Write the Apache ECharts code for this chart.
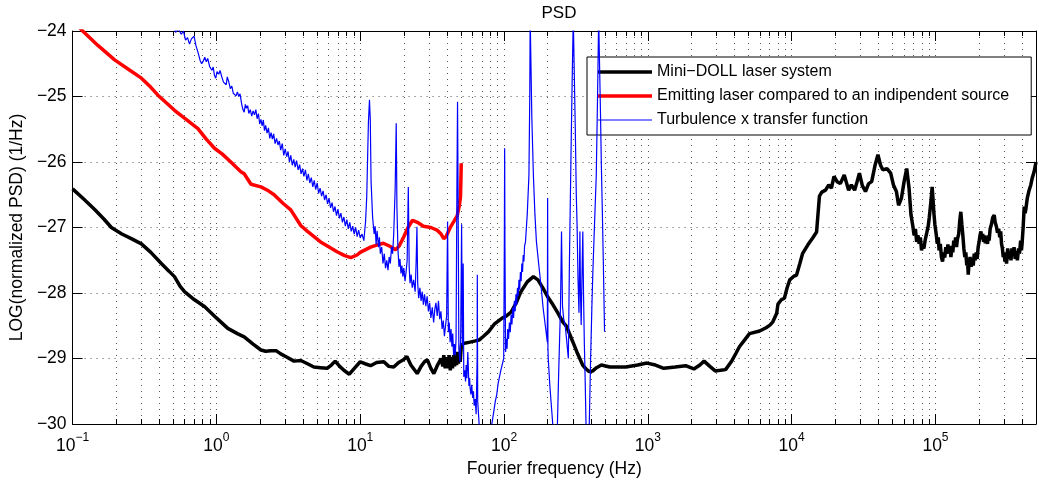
<!DOCTYPE html>
<html>
<head>
<meta charset="utf-8">
<script src="https://cdn.jsdelivr.net/npm/echarts@6/dist/echarts.min.js"></script>
<style>
html,body{margin:0;padding:0;background:#fff;}
#chart{width:1039px;height:485px;}
</style>
</head>
<body>
<div id="chart"></div>
<script>
// ---------- data (frequency in Hz, value = LOG(normalized PSD)) ----------
const TITLE = 'PSD';
const X_NAME = 'Fourier frequency (Hz)';
const Y_NAME = 'LOG(normalized PSD) (1/Hz)';
const SERIES_NAMES = ['Mini\u2212DOLL laser system', 'Emitting laser compared to an indipendent source', 'Turbulence x transfer function'];
const X_MIN = 0.1, X_MAX = 5e5;
const Y_MIN = -30, Y_MAX = -24, Y_STEP = 1;

const DOLL_F = [0.1,0.12,0.143,0.165,0.186,0.22,0.256,0.301,0.35,0.414,0.47,0.511,0.56,0.6,0.7,0.83,1.0,1.2,1.4,1.56,1.8,2.04,2.2,2.39,2.6,2.8,3.1,3.46,3.86,4.3,4.76,5.3,5.88,6.3,6.7,7.2,7.7,8.4,9.2,10,10.8,11.8,13,14.6,15.8,17.1,18.5,20,21.1,22.5,24.9,26.5,28,29.3,31,32.5,34.5,36.5,37.5,38.1,39,40,41,41.5,42.3,43,43.8,44.6,45.3,46,46.8,47.5,48.2,48.8,49.5,50.5,52.2,58,67,72,78.1,86,96,104,112,121,131,145,160,172,187,200,219,236,256,272,300,321,352,372,391,414,440,475,543,633,704,850,985,1130,1290,1550,1830,2090,2300,2460,2700,2940,3200,3470,3800,4100,4330,4700,5090,5990,6640,7060,7400,7870,8030,8500,8900,9300,9700,10400,10800,11400,11900,13000,14000,14900,15600,16200,17200,18100,18900,19700,20700,21800,23200,24900,26000,27400,28500,29600,31000,32600,34300,36000,38000,39800,41500,43000,46000,48800,51000,53500,55400,58000,60500,63100,65500,67500,69700,71000,72500,74000,75500,77000,78500,80000,81500,83000,85000,87000,89000,90500,92000,93500,94800,96000,97500,99000,101000,103000,104500,106000,108000,110000,112000,114000,116000,118000,120000,122000,124000,126000,128000,130000,132000,134000,136000,138000,140000,142000,145000,147500,150000,152500,155000,157500,160000,162500,165000,167000,169000,171000,174000,177000,180000,183000,186000,189000,192000,195000,198000,201000,204000,207000,210000,213000,216000,219000,222000,226000,230000,233000,236000,240000,245000,250000,256000,260000,265000,270000,275000,280000,284000,288000,292000,296000,300000,304000,308000,312000,318000,324000,330000,335000,340000,346000,352000,358000,365000,371000,378000,384000,391000,396000,400000,407000,414000,420000,425000,435000,448000,460000,470000,485000,500000];
const DOLL_V = [-26.41,-26.57,-26.73,-26.87,-27.00,-27.10,-27.17,-27.25,-27.38,-27.55,-27.67,-27.75,-27.90,-27.98,-28.10,-28.21,-28.38,-28.54,-28.62,-28.67,-28.78,-28.87,-28.89,-28.88,-28.88,-28.93,-28.98,-29.04,-29.03,-29.08,-29.13,-29.14,-29.15,-29.10,-29.04,-29.12,-29.18,-29.24,-29.14,-29.05,-29.08,-29.11,-29.06,-29.05,-29.12,-29.13,-29.06,-29.02,-28.97,-29.10,-29.23,-29.12,-29.05,-29.02,-29.15,-29.23,-29.10,-29.00,-29.12,-28.95,-29.15,-28.98,-29.15,-28.95,-29.18,-28.98,-29.15,-28.95,-29.12,-28.92,-29.10,-28.90,-29.08,-28.92,-29.05,-28.80,-28.77,-28.75,-28.72,-28.66,-28.59,-28.47,-28.39,-28.35,-28.29,-28.16,-27.98,-27.83,-27.75,-27.80,-27.93,-28.05,-28.18,-28.30,-28.44,-28.51,-28.74,-28.90,-29.10,-29.16,-29.20,-29.19,-29.14,-29.10,-29.13,-29.13,-29.13,-29.10,-29.07,-29.10,-29.15,-29.13,-29.11,-29.16,-29.10,-29.04,-29.12,-29.19,-29.18,-29.17,-29.05,-28.92,-28.82,-28.72,-28.62,-28.58,-28.53,-28.49,-28.44,-28.31,-28.17,-28.10,-28.08,-27.92,-27.80,-27.74,-27.73,-27.55,-27.40,-27.26,-27.16,-27.07,-26.52,-26.46,-26.43,-26.35,-26.40,-26.22,-26.30,-26.33,-26.20,-26.43,-26.35,-26.43,-26.30,-26.17,-26.36,-26.45,-26.33,-26.30,-26.05,-25.89,-26.05,-26.12,-26.10,-26.17,-26.35,-26.45,-26.66,-26.55,-26.30,-26.10,-26.40,-26.80,-26.99,-27.12,-27.02,-27.22,-27.12,-27.25,-27.15,-27.35,-27.28,-27.32,-27.18,-27.08,-26.98,-26.85,-26.70,-26.55,-26.38,-26.55,-26.78,-26.95,-27.09,-27.25,-27.15,-27.35,-27.25,-27.45,-27.52,-27.38,-27.46,-27.30,-27.40,-27.26,-27.36,-27.28,-27.45,-27.30,-27.38,-27.20,-27.28,-27.15,-27.30,-27.18,-27.10,-26.90,-26.76,-26.95,-27.12,-27.32,-27.45,-27.38,-27.58,-27.50,-27.72,-27.55,-27.45,-27.60,-27.50,-27.58,-27.40,-27.50,-27.38,-27.48,-27.30,-27.22,-27.12,-27.06,-27.18,-27.10,-27.22,-27.12,-27.24,-27.14,-27.25,-27.12,-27.20,-27.02,-26.95,-26.85,-26.81,-26.92,-26.98,-27.08,-27.02,-27.15,-27.06,-27.25,-27.32,-27.45,-27.38,-27.52,-27.45,-27.55,-27.32,-27.48,-27.36,-27.50,-27.32,-27.42,-27.30,-27.48,-27.36,-27.50,-27.32,-27.40,-27.20,-27.35,-27.25,-27.00,-26.68,-26.78,-26.72,-26.55,-26.43,-26.35,-26.25,-26.15,-26.00];

const EMIT_F = [0.1,0.115,0.15,0.196,0.25,0.301,0.35,0.392,0.45,0.511,0.6,0.744,0.85,0.97,1.1,1.26,1.48,1.56,1.74,2.04,2.3,2.52,2.9,3.29,3.86,4.3,5.3,6.2,6.9,7.8,8.6,9.5,10,11.8,13,14.5,16.2,17.6,18.7,20.1,21.5,23.1,25,27.5,31,34.2,36.5,38.1,39.5,42.5,45,47.3,49,49.8,50.1,50.4];
const EMIT_V = [-23.78,-23.98,-24.22,-24.44,-24.60,-24.72,-24.86,-24.98,-25.10,-25.21,-25.33,-25.49,-25.65,-25.79,-25.88,-26.00,-26.15,-26.18,-26.34,-26.38,-26.44,-26.50,-26.63,-26.73,-26.97,-27.06,-27.22,-27.31,-27.37,-27.43,-27.46,-27.42,-27.38,-27.30,-27.27,-27.24,-27.29,-27.34,-27.28,-27.14,-27.00,-26.89,-26.92,-26.98,-27.00,-27.04,-27.10,-27.17,-27.14,-26.99,-26.90,-26.82,-26.65,-26.53,-26.30,-26.02];

const TURB_F = [0.5,0.52,0.545,0.57,0.59,0.61,0.63,0.65,0.67,0.7,0.72,0.75,0.77,0.79,0.81,0.83,0.85,0.87,0.9,0.93,0.95,0.97,0.99,1.01,1.04,1.06,1.09,1.12,1.15,1.17,1.19,1.22,1.25,1.28,1.31,1.34,1.37,1.4,1.43,1.46,1.5,1.53,1.56,1.59,1.62,1.65,1.68,1.72,1.76,1.8,1.84,1.88,1.92,1.96,2.0,2.04,2.08,2.12,2.16,2.2,2.25,2.3,2.35,2.4,2.45,2.5,2.56,2.62,2.68,2.74,2.8,2.87,2.94,3.01,3.08,3.15,3.22,3.29,3.37,3.45,3.53,3.61,3.7,3.79,3.88,3.97,4.06,4.16,4.26,4.36,4.46,4.57,4.68,4.79,4.9,5.02,5.14,5.26,5.39,5.52,5.65,5.79,5.93,6.07,6.22,6.37,6.52,6.68,6.84,7.0,7.17,7.34,7.52,7.7,7.88,8.07,8.26,8.46,8.66,8.87,9.08,9.3,9.52,9.75,10.0,10.3,10.6,10.9,11.1,11.4,11.6,11.75,11.9,12.2,12.5,12.7,12.9,13.1,13.4,13.6,13.8,14.1,14.4,14.7,15.0,15.3,15.6,15.9,16.2,16.5,16.8,17.1,17.5,17.8,18.0,18.3,18.6,18.9,19.2,19.5,19.8,20.1,20.5,20.9,21.2,21.6,21.9,22.2,22.6,23.0,23.5,24.1,24.5,24.8,25.1,25.5,26.0,26.5,27.0,27.5,28.0,28.6,29.2,29.8,30.4,31.0,31.7,32.4,33.0,33.6,34.3,35.0,35.7,36.4,37.1,37.8,38.5,39.2,39.9,40.5,41.0,41.6,42.2,42.8,43.4,44.0,44.6,45.2,45.8,46.4,47.0,47.5,47.9,48.5,49.0,49.5,50.0,50.7,51.3,52.0,52.5,53.3,54.0,54.5,55.2,56.0,57.0,57.6,58.1,58.8,59.6,60.5,61.3,62.0,63.0,64.0,65.0,65.2,65.6,67.2,70,75,82,85,87,89,91,93,95,97,99.5,100.5,101,101.5,102.5,104,105,106,107.5,109,110.5,112,113.5,115,116.5,118,119.5,121,122.5,124,125.5,127,128.5,130,131.5,133,134.5,136,137.5,139,141,145,149,151,152,154,156,160,164,168,175,181,187,195,200,201,202,203,208,214,219,225,235,240,247,251,255,260,266,272,280,285,292,298,303,307,313,318,322,327,332,337,340,344,348,353,357,362,366,372,382,391,400,408,414,425,438,447,455,460,468,475,482,490,500];
const TURB_V = [-23.90,-24.02,-23.97,-24.05,-24.00,-24.14,-24.10,-24.20,-24.12,-24.08,-24.22,-24.35,-24.45,-24.50,-24.46,-24.40,-24.47,-24.42,-24.55,-24.60,-24.55,-24.68,-24.72,-24.62,-24.66,-24.60,-24.70,-24.78,-24.76,-24.82,-24.70,-24.78,-24.88,-24.84,-24.95,-24.92,-24.99,-24.93,-25.00,-24.96,-25.12,-25.20,-25.24,-25.12,-25.18,-25.14,-25.26,-25.20,-25.30,-25.22,-25.28,-25.20,-25.34,-25.26,-25.42,-25.35,-25.45,-25.36,-25.52,-25.44,-25.56,-25.48,-25.64,-25.55,-25.65,-25.57,-25.72,-25.64,-25.74,-25.68,-25.82,-25.72,-25.90,-25.80,-25.92,-25.84,-26.00,-25.90,-26.05,-25.96,-26.08,-25.98,-26.12,-26.04,-26.18,-26.10,-26.22,-26.12,-26.28,-26.18,-26.32,-26.24,-26.38,-26.28,-26.42,-26.32,-26.48,-26.40,-26.52,-26.44,-26.58,-26.50,-26.64,-26.55,-26.70,-26.62,-26.76,-26.68,-26.82,-26.72,-26.86,-26.78,-26.92,-26.84,-26.98,-26.88,-27.02,-26.92,-27.06,-26.98,-27.10,-27.00,-27.14,-27.04,-27.16,-27.10,-27.20,-26.90,-26.53,-25.40,-25.05,-25.36,-26.30,-26.85,-27.10,-26.98,-27.26,-27.05,-27.30,-27.15,-27.40,-27.30,-27.55,-27.40,-27.62,-27.50,-27.65,-27.45,-27.55,-27.30,-27.40,-27.10,-26.40,-25.41,-26.70,-27.34,-27.60,-27.48,-27.70,-27.58,-27.75,-27.62,-27.82,-27.65,-27.50,-26.38,-27.60,-27.85,-27.72,-27.92,-27.80,-27.98,-27.50,-26.99,-27.85,-28.08,-27.92,-28.12,-27.98,-28.18,-28.02,-28.20,-28.05,-28.28,-28.15,-28.38,-28.22,-28.45,-28.25,-28.15,-28.35,-28.12,-28.40,-28.28,-28.55,-28.42,-28.66,-28.50,-28.35,-26.91,-28.60,-28.45,-28.75,-28.55,-28.82,-28.62,-28.95,-28.78,-28.95,-28.70,-26.50,-25.08,-26.40,-28.85,-28.98,-29.05,-28.60,-26.95,-28.80,-27.55,-29.28,-29.18,-29.35,-29.10,-29.30,-28.90,-29.42,-29.30,-29.45,-29.55,-29.40,-29.60,-29.50,-29.72,-29.62,-29.85,-29.00,-27.72,-29.65,-30.02,-30.40,-30.60,-30.02,-29.80,-29.65,-29.55,-29.38,-29.40,-29.18,-29.20,-29.00,-27.20,-25.79,-27.30,-28.90,-28.70,-28.85,-28.55,-28.70,-28.45,-28.60,-28.33,-28.48,-28.22,-28.38,-28.12,-28.28,-28.02,-28.18,-27.92,-28.05,-27.80,-27.95,-27.68,-27.82,-27.55,-27.68,-27.42,-27.52,-27.28,-27.22,-26.80,-26.20,-25.00,-23.80,-23.80,-25.30,-26.20,-26.80,-27.22,-27.60,-27.90,-28.23,-28.55,-28.75,-26.55,-28.85,-29.00,-29.40,-29.76,-30.05,-30.30,-30.02,-29.20,-28.20,-27.06,-28.20,-28.40,-28.49,-28.70,-29.00,-27.50,-25.94,-24.70,-23.80,-23.80,-25.50,-26.50,-26.96,-27.80,-28.30,-27.06,-28.00,-28.49,-27.80,-27.06,-28.00,-28.80,-29.25,-30.05,-30.40,-30.05,-29.00,-28.23,-27.72,-27.00,-26.20,-25.00,-23.80,-23.80,-25.20,-26.05,-26.70,-27.50,-28.59];

// minor log grid positions 2..9 x 10^k
const MINOR_F = [];
for (let k = -1; k <= 5; k++) {
  for (let m = 2; m <= 9; m++) {
    const f = m * Math.pow(10, k);
    if (f < X_MAX) MINOR_F.push(f);
  }
}

const zip = (a, b) => a.map((v, i) => [v, b[i]]);
const FONT = 'Liberation Sans, Arial, Helvetica, sans-serif';
const GRID_DASH = [1, 5];
const GRID_COLOR = '#555';

const chart = echarts.init(document.getElementById('chart'), null, {renderer: 'canvas'});

function renderMinor(params, api) {
  const f = api.value(0);
  const pb = api.coord([f, Y_MIN]);
  const pt = api.coord([f, Y_MAX]);
  const x = Math.round(pb[0]) + 0.5;
  return {
    type: 'group',
    children: [
      {type: 'line', shape: {x1: x, y1: pt[1], x2: x, y2: pb[1]}, style: {stroke: GRID_COLOR, lineWidth: 1, lineDash: GRID_DASH}},
      {type: 'line', shape: {x1: x, y1: pb[1], x2: x, y2: pb[1] - 5}, style: {stroke: '#000', lineWidth: 1}},
      {type: 'line', shape: {x1: x, y1: pt[1], x2: x, y2: pt[1] + 5}, style: {stroke: '#000', lineWidth: 1}}
    ]
  };
}

function xLabel(value) {
  const e = Math.round(Math.log10(value));
  const p = Math.pow(10, e);
  if (Math.abs(value - p) / p > 1e-6) return '';
  return '{b|10}{s|' + (e < 0 ? '\u2212' + (-e) : String(e)) + '}';
}

const option = {
  animation: false,
  backgroundColor: '#fff',
  title: {
    text: TITLE,
    left: 554,
    top: 0,
    textAlign: 'center',
    textStyle: {fontFamily: FONT, fontSize: 17, fontWeight: 'normal', color: '#000'}
  },
  legend: {
    data: [
      {name: SERIES_NAMES[0], icon: 'path://M0,0H54V3.5H0Z', itemStyle: {color: '#000'}},
      {name: SERIES_NAMES[1], icon: 'path://M0,0H54V3.5H0Z', itemStyle: {color: '#ff0000'}},
      {name: SERIES_NAMES[2], icon: 'path://M0,0H54V2H0Z', itemStyle: {color: '#7f7fff'}}
    ],
    orient: 'vertical',
    left: 587,
    top: 57,
    itemWidth: 54,
    itemHeight: 14,
    itemGap: 8,
    padding: [7, 22, 7, 11],
    borderColor: '#000',
    borderWidth: 1,
    backgroundColor: '#fff',
    selectedMode: false,
    textStyle: {fontFamily: FONT, fontSize: 16, color: '#000', lineHeight: 16}
  },
  grid: {left: 71, top: 31, width: 967, height: 393, show: false, containLabel: false},
  xAxis: [
    {
      type: 'log', logBase: 10, min: X_MIN, max: X_MAX,
      name: X_NAME, nameLocation: 'middle', nameGap: 34,
      nameTextStyle: {fontFamily: FONT, fontSize: 17.5, color: '#000'},
      axisLine: {show: true, lineStyle: {color: '#000', width: 1}},
      axisTick: {show: true, inside: true, length: 10, lineStyle: {color: '#000'}},
      axisLabel: {
        show: true, margin: 8, formatter: xLabel, color: '#000',
        rich: {
          b: {fontFamily: FONT, fontSize: 17.5, color: '#000', padding: [5, 0, 0, 0], verticalAlign: 'bottom'},
          s: {fontFamily: FONT, fontSize: 12, color: '#000', lineHeight: 12, verticalAlign: 'top'}
        }
      },
      splitLine: {show: true, lineStyle: {color: GRID_COLOR, width: 1, type: GRID_DASH}},
      minorTick: {show: false}
    },
    {
      type: 'log', logBase: 10, min: X_MIN, max: X_MAX, position: 'top',
      axisLine: {show: true, lineStyle: {color: '#000', width: 1}},
      axisTick: {show: true, inside: true, length: 10, lineStyle: {color: '#000'}},
      axisLabel: {show: false},
      splitLine: {show: false}
    }
  ],
  yAxis: [
    {
      type: 'value', min: Y_MIN, max: Y_MAX, interval: Y_STEP,
      name: Y_NAME, nameLocation: 'middle', nameGap: 46,
      nameTextStyle: {fontFamily: FONT, fontSize: 17.5, color: '#000'},
      axisLine: {show: true, lineStyle: {color: '#000', width: 1}},
      axisTick: {show: true, inside: true, length: 10, lineStyle: {color: '#000'}},
      axisLabel: {
        show: true, margin: 6, color: '#000', fontFamily: FONT, fontSize: 17.5,
        formatter: v => (v < 0 ? '\u2212' + (-v) : String(v))
      },
      splitLine: {show: true, lineStyle: {color: GRID_COLOR, width: 1, type: GRID_DASH}}
    },
    {
      type: 'value', min: Y_MIN, max: Y_MAX, interval: Y_STEP, position: 'right',
      axisLine: {show: true, lineStyle: {color: '#000', width: 1}},
      axisTick: {show: true, inside: true, length: 10, lineStyle: {color: '#000'}},
      axisLabel: {show: false},
      splitLine: {show: false}
    }
  ],
  series: [
    {
      name: 'minorgrid', type: 'custom', xAxisIndex: 0, yAxisIndex: 0, z: 1, silent: true,
      renderItem: renderMinor,
      data: MINOR_F.map(f => [f, Y_MIN]),
      clip: false
    },
    {
      name: SERIES_NAMES[0], type: 'line', data: zip(DOLL_F, DOLL_V), symbol: 'none', z: 3,
      lineStyle: {color: '#000', width: 3.5}, itemStyle: {color: '#000'}, clip: true
    },
    {
      name: SERIES_NAMES[1], type: 'line', data: zip(EMIT_F, EMIT_V), symbol: 'none', z: 4,
      lineStyle: {color: '#ff0000', width: 3.5}, itemStyle: {color: '#ff0000'}, clip: true
    },
    {
      name: SERIES_NAMES[2], type: 'line', data: zip(TURB_F, TURB_V), symbol: 'none', z: 5,
      lineStyle: {color: '#0000ff', width: 1.2}, itemStyle: {color: '#0000ff'}, clip: true
    }
  ]
};
chart.setOption(option);
</script>
</body>
</html>
